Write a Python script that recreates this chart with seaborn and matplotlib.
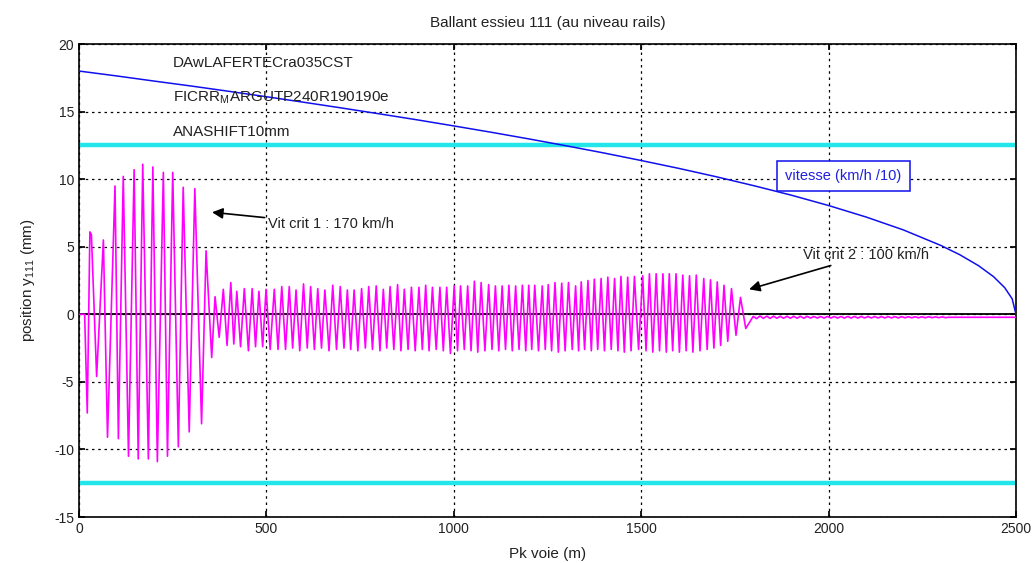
import matplotlib
matplotlib.use("Agg")
import matplotlib.pyplot as plt
import pandas as pd
import seaborn as sns

# ---------------- text ----------------
title = "Ballant essieu 111 (au niveau rails)"
x_label = "Pk voie (m)"
y_label = "position y$_{111}$ (mm)"
info_lines = ["DAwLAFERTECra035CST", "FICRR$_{M}$ARGUTP240R190190e", "ANASHIFT10mm"]
legend_text = "vitesse (km/h /10)"
crit1_text = "Vit crit 1 : 170 km/h"
crit2_text = "Vit crit 2 : 100 km/h"
x_ticks = [0, 500, 1000, 1500, 2000, 2500]
y_ticks = [-15, -10, -5, 0, 5, 10, 15, 20]
limit_levels = [12.5, -12.5]

# ---------------- speed curve (km/h / 10) ----------------
speed_x = [0, 100, 200, 300, 400, 500, 600, 700, 800, 900, 1000, 1100, 1200, 1300,
           1400, 1500, 1600, 1700, 1800, 1900, 2000, 2100, 2200, 2300, 2350, 2400,
           2440, 2470, 2490, 2500]
speed_y = [18.0, 17.64, 17.26, 16.89, 16.50, 16.10, 15.69, 15.27, 14.84, 14.40,
           13.94, 13.47, 12.98, 12.47, 11.94, 11.38, 10.80, 10.18, 9.52, 8.82,
           8.05, 7.20, 6.24, 5.09, 4.41, 3.60, 2.79, 1.97, 1.14, 0.0]

# ---------------- axle lateral position (mm) ----------------
onset_x = [0, 15, 22, 29, 33, 47, 65, 76, 96, 105, 118, 132, 147, 158, 170, 185,
           197, 209, 225, 236, 250, 265, 278, 294, 309, 327, 339, 354]
onset_y = [0, 0, -7.3, 6.1, 5.9, -4.6, 5.5, -9.1, 9.5, -9.2, 10.2, -10.5, 10.7,
           -10.7, 11.1, -10.7, 10.9, -10.9, 10.5, -10.5, 10.5, -9.8, 9.4, -8.7,
           9.3, -8.1, 4.7, -3.2]

peak_x = [363, 385, 405, 421, 441, 462, 480, 499, 521, 541,
          561, 579, 599, 618, 637, 656, 677, 697, 716, 734,
          754, 773, 793, 812, 830, 850, 868, 887, 907, 925,
          943, 963, 981, 1001, 1018, 1037, 1055, 1073, 1093, 1111,
          1129, 1147, 1165, 1183, 1200, 1216, 1236, 1252, 1270, 1288,
          1306, 1325, 1340, 1358, 1375, 1393, 1411, 1429, 1446, 1464,
          1482, 1504, 1522, 1540, 1558, 1575, 1593, 1611, 1629, 1647,
          1667, 1685, 1703, 1721, 1741, 1765]
peak_y = [1.3, 1.85, 2.35, 1.7, 1.9, 1.9, 1.7, 1.85, 1.85, 2.05,
          2.05, 1.8, 2.25, 2.05, 1.9, 1.8, 2.15, 2.05, 1.8, 1.8,
          1.9, 2.05, 2.1, 1.85, 2.05, 2.2, 1.85, 2.0, 2.0, 2.15,
          2.0, 2.0, 2.0, 2.1, 2.1, 2.1, 2.45, 2.35, 2.2, 2.1,
          2.1, 2.15, 2.1, 2.15, 2.15, 2.15, 2.1, 2.2, 2.35, 2.3,
          2.35, 2.1, 2.4, 2.5, 2.6, 2.65, 2.75, 2.65, 2.8, 2.75,
          2.8, 2.85, 3.0, 3.0, 3.0, 3.0, 3.0, 2.9, 2.85, 2.9,
          2.65, 2.55, 2.4, 2.15, 1.9, 1.25]
trough_x = [374, 395, 413, 431, 452, 471, 490, 510, 531, 551,
            570, 589, 609, 628, 647, 667, 687, 707, 725, 744,
            764, 783, 803, 821, 840, 859, 878, 897, 916, 934,
            953, 972, 991, 1010, 1028, 1046, 1064, 1083, 1102, 1120,
            1138, 1156, 1174, 1192, 1208, 1226, 1244, 1261, 1279, 1297,
            1316, 1333, 1349, 1367, 1384, 1402, 1420, 1438, 1455, 1473,
            1493, 1513, 1531, 1549, 1567, 1584, 1602, 1620, 1638, 1657,
            1676, 1694, 1712, 1731, 1753, 1779]
trough_y = [-1.7, -2.3, -2.2, -2.4, -2.7, -2.4, -2.4, -2.6, -2.6, -2.6,
            -2.5, -2.7, -2.5, -2.6, -2.5, -2.7, -2.6, -2.5, -2.6, -2.7,
            -2.5, -2.6, -2.7, -2.5, -2.6, -2.7, -2.6, -2.7, -2.6, -2.7,
            -2.6, -2.7, -2.9, -2.7, -2.6, -2.7, -2.8, -2.7, -2.6, -2.7,
            -2.6, -2.7, -2.6, -2.7, -2.6, -2.7, -2.6, -2.7, -2.8, -2.7,
            -2.6, -2.7, -2.6, -2.7, -2.6, -2.7, -2.6, -2.7, -2.8, -2.7,
            -2.6, -2.7, -2.8, -2.7, -2.8, -2.7, -2.8, -2.7, -2.8, -2.7,
            -2.6, -2.5, -2.3, -2.0, -1.55, -1.05]
tail_x = [1799, 1808, 1817, 1826, 1835, 1844, 1853, 1862, 1871, 1880, 1889, 1898,
          1907, 1916, 1925, 1934, 1943, 1952, 1961, 1970, 1979, 1988, 1997, 2006,
          2015, 2024, 2033, 2042, 2051, 2060, 2069, 2078, 2087, 2096, 2105, 2114,
          2123, 2132, 2141, 2150, 2159, 2168, 2177, 2186, 2195, 2204, 2213, 2222,
          2231, 2240, 2249, 2258, 2267, 2276, 2285, 2294, 2303, 2312, 2320, 2500]
tail_y = [-0.15, -0.32, -0.12, -0.30, -0.14, -0.30, -0.14, -0.29, -0.15, -0.29,
          -0.15, -0.29, -0.15, -0.29, -0.15, -0.29, -0.15, -0.28, -0.16, -0.28,
          -0.16, -0.28, -0.16, -0.28, -0.16, -0.28, -0.16, -0.28, -0.16, -0.28,
          -0.16, -0.28, -0.16, -0.27, -0.17, -0.27, -0.17, -0.27, -0.17, -0.27,
          -0.17, -0.27, -0.17, -0.27, -0.17, -0.26, -0.18, -0.26, -0.18, -0.26,
          -0.18, -0.26, -0.18, -0.25, -0.19, -0.25, -0.19, -0.25, -0.22, -0.22]

# assemble the oscillation series
pos_x = list(onset_x)
pos_y = list(onset_y)
for px_, py_, tx_, ty_ in zip(peak_x, peak_y, trough_x, trough_y):
    pos_x += [px_, tx_]
    pos_y += [py_, ty_]
pos_x += tail_x
pos_y += tail_y

pos_df = pd.DataFrame({"pk": pos_x, "y": pos_y})
speed_df = pd.DataFrame({"pk": speed_x, "v": speed_y})

# ---------------- figure ----------------
sns.set_theme(style="white")
plt.rcParams["font.family"] = ["Liberation Sans Narrow", "Liberation Sans", "DejaVu Sans"]
plt.rcParams["axes.unicode_minus"] = False
plt.rcParams["mathtext.fontset"] = "custom"
plt.rcParams["mathtext.rm"] = "Liberation Sans"
plt.rcParams["mathtext.it"] = "Liberation Sans"

fig = plt.figure(figsize=(10.33, 5.63), dpi=100)
ax = fig.add_axes([0.0765, 0.0817, 0.907, 0.8401])

for lv in limit_levels:
    ax.axhline(lv, color="#22e6ea", lw=3.2, zorder=2)
ax.axhline(0, color="black", lw=1.3, zorder=2)

sns.lineplot(data=speed_df, x="pk", y="v", color="#1010ee", lw=1.1,
             estimator=None, sort=False, ax=ax, zorder=3)
sns.lineplot(data=pos_df, x="pk", y="y", color="#ff00ff", lw=1.2,
             estimator=None, sort=False, ax=ax, zorder=4)

ax.set_xlim(0, 2500)
ax.set_ylim(-15, 20)
ax.set_xticks(x_ticks)
ax.set_yticks(y_ticks)
ax.grid(True, color="black", linestyle=(0, (2, 3)), linewidth=0.9)
for s in ax.spines.values():
    s.set_color("black")
    s.set_linewidth(1.2)
ax.tick_params(direction="in", length=4, color="black", labelsize=10,
               labelcolor="#222222", left=True, bottom=True, top=True, right=True)

ax.set_title(title, fontsize=11, color="#222222", pad=12)
ax.set_xlabel(x_label, fontsize=11, color="#222222", labelpad=8)
ax.set_ylabel(y_label, fontsize=11, color="#222222", labelpad=12)

for i, txt in enumerate(info_lines):
    ax.text(251, 18.6 - 2.57 * i, txt, fontsize=11, color="#222222",
            va="center", ha="left", zorder=5)

ax.text(1885, 10.25, legend_text, fontsize=10.5, color="#2020dd", va="center",
        ha="left", zorder=6,
        bbox=dict(boxstyle="square,pad=0.55", facecolor="white", edgecolor="#1010ee", lw=1.1))

ax.annotate(crit1_text, xy=(355, 7.55), xytext=(504, 6.66), fontsize=10.5,
            color="#222222", va="center", ha="left",
            arrowprops=dict(arrowstyle="-|>", color="black", lw=1.2,
                            mutation_scale=16, shrinkA=0, shrinkB=0))
ax.annotate(crit2_text, xy=(1788, 1.85), xytext=(1932, 4.37), fontsize=10.5,
            color="#222222", va="center", ha="left",
            arrowprops=dict(arrowstyle="-|>", color="black", lw=1.2,
                            mutation_scale=16, shrinkA=0, shrinkB=0))

fig.savefig("out.png", dpi=100, facecolor="white")
